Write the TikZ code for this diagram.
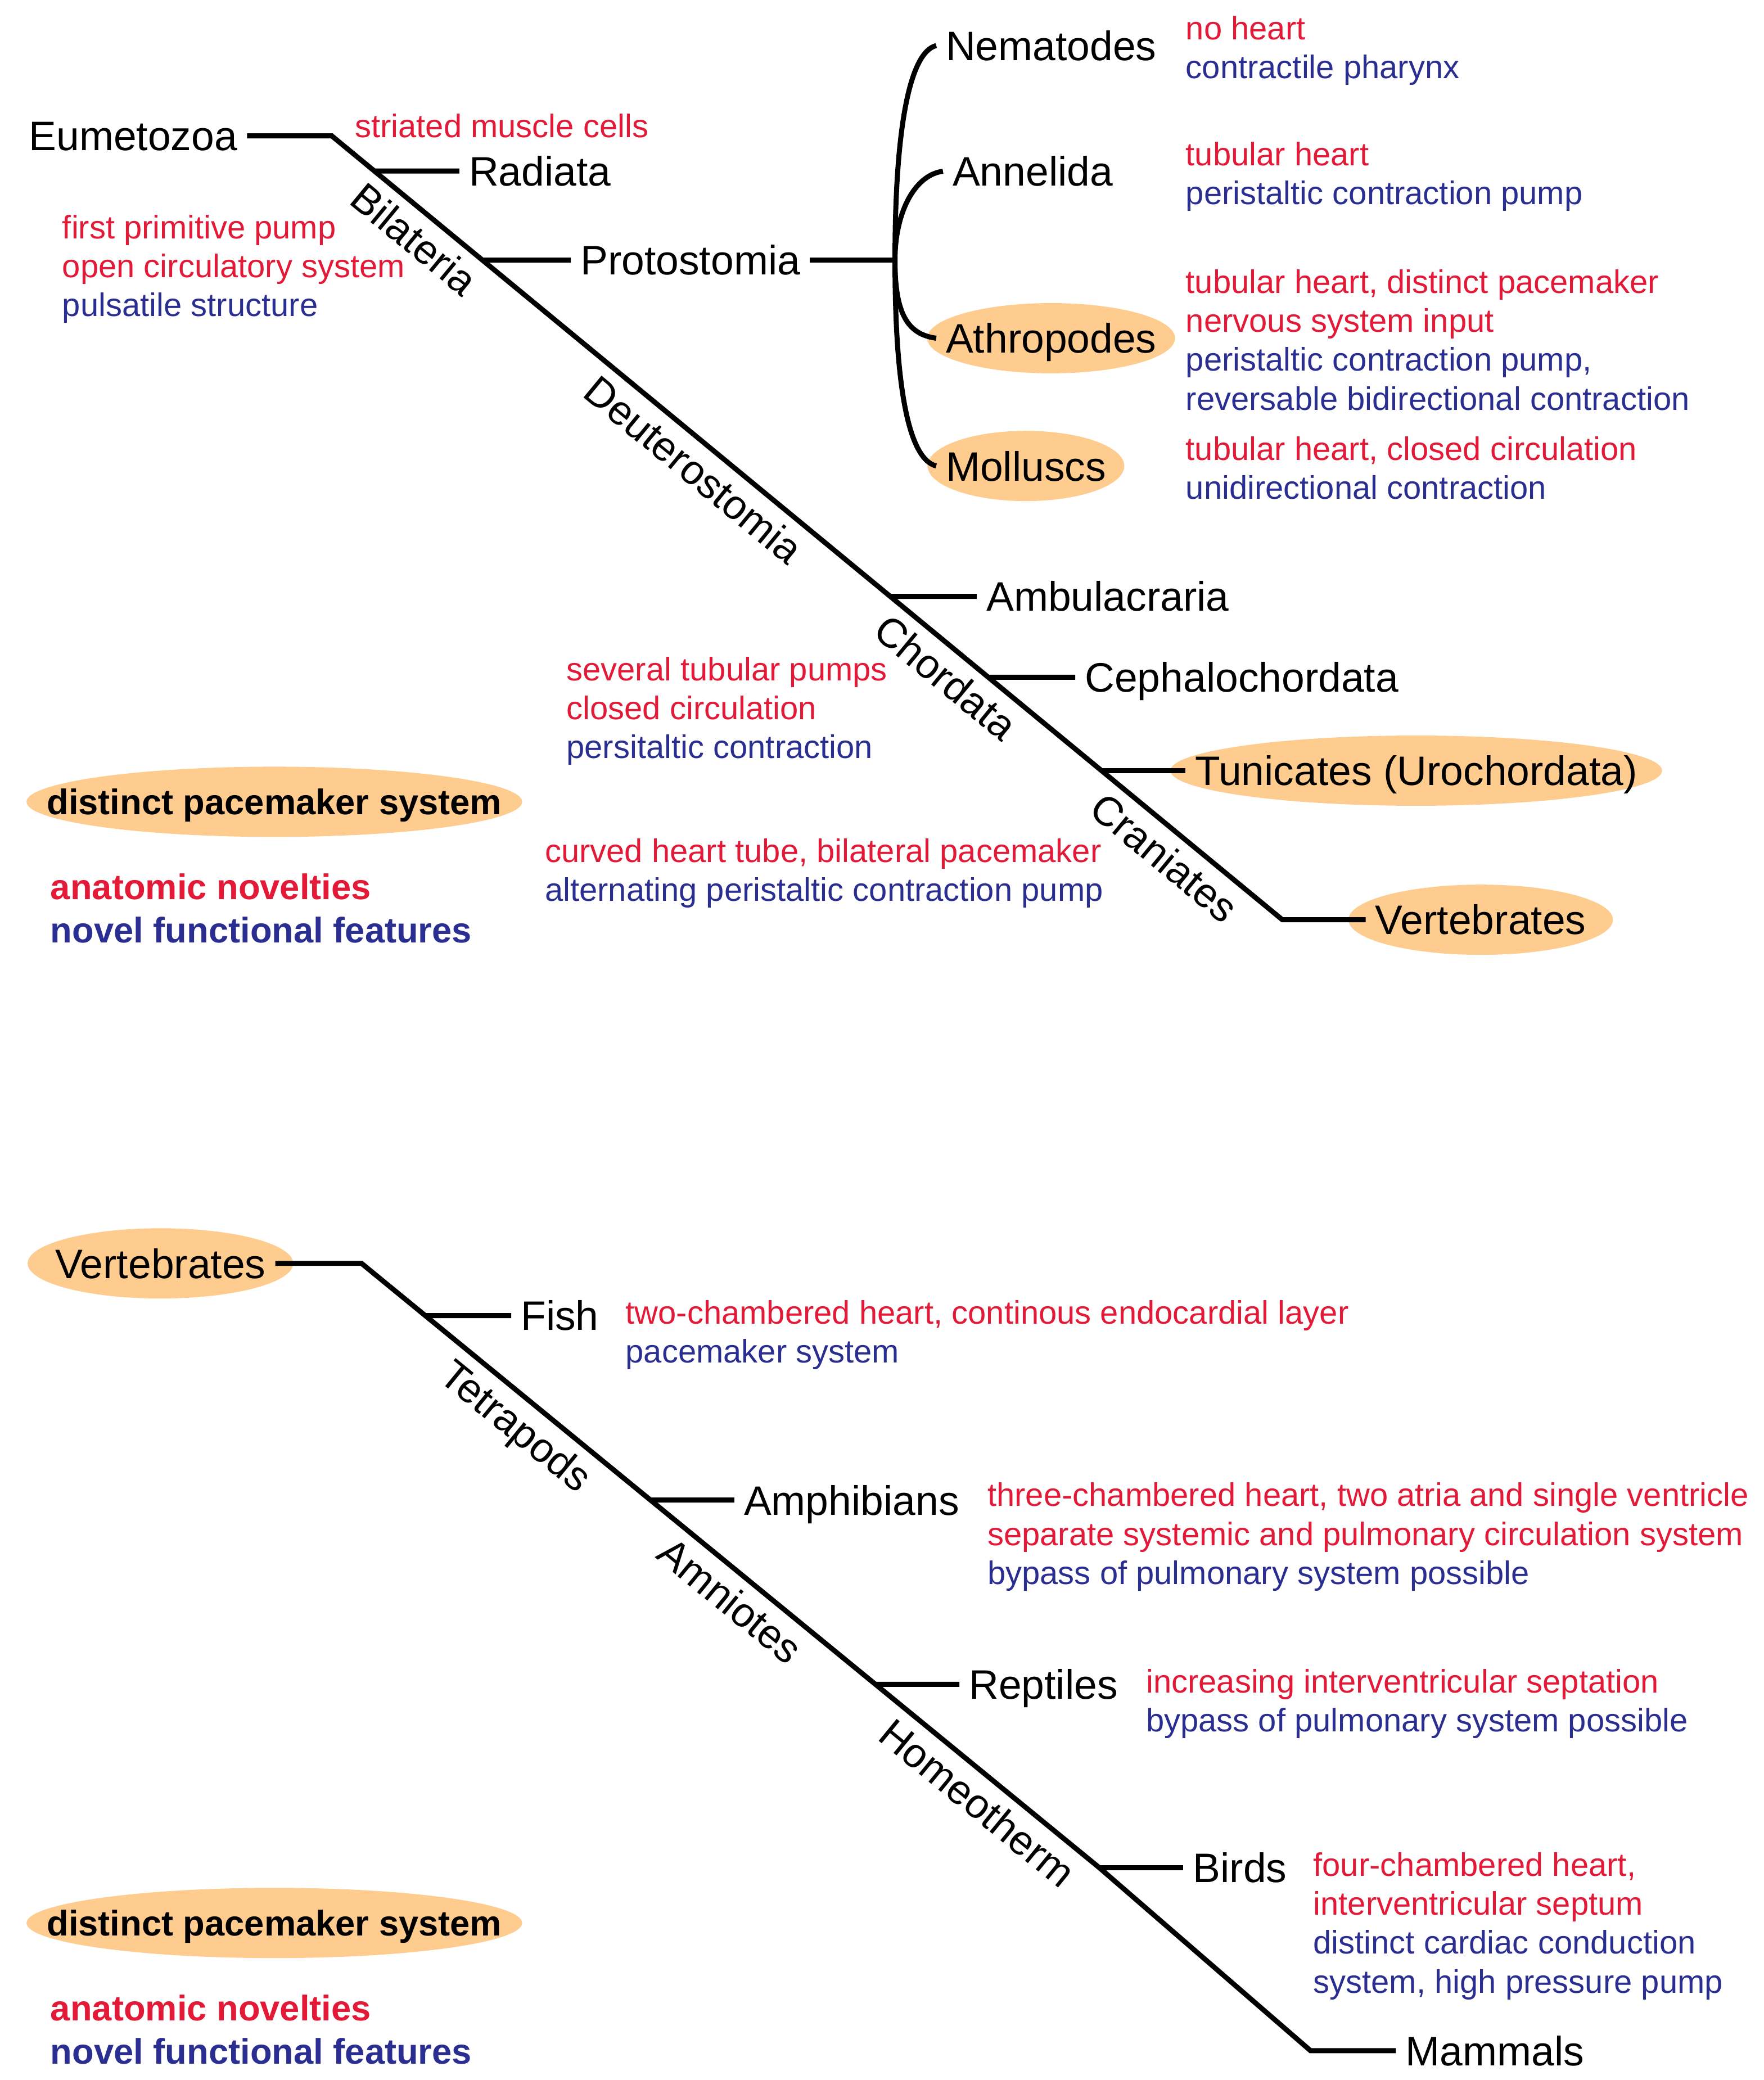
\documentclass[tikz,border=0pt]{standalone}
\usepackage{fontspec}
\setmainfont{Liberation Sans}
\usetikzlibrary{positioning, backgrounds}

\definecolor{anatred}{RGB}{226,26,55}
\definecolor{funcblue}{RGB}{43,46,145}
\definecolor{hlorange}{RGB}{255,204,143}
\newcommand{\anat}[1]{\textcolor{anatred}{#1}}
\newcommand{\func}[1]{\textcolor{funcblue}{#1}}

\begin{document}
\begin{tikzpicture}[x=0.25mm, y=-0.25mm,
    branch/.style={line width=2.7pt},
    taxon/.style={font=\fontsize{22.1}{26}\selectfont, inner xsep=5pt, inner ysep=0pt,
      text height=20.6pt, text depth=4.7pt},
    clade/.style={font=\fontsize{22.1}{26}\selectfont, sloped, below, inner sep=5pt},
    note/.style={font=\fontsize{17.5}{20.9}\selectfont, align=left, anchor=north west, inner sep=0pt},
    legendtext/.style={font=\bfseries\fontsize{19.1}{23.5}\selectfont, inner sep=0pt}]
  \useasboundingbox (0,0) rectangle (1331,1569.5);

  % Upper tree: Eumetozoa down to the vertebrates
  \node[taxon, anchor=east] (eum) at (186.4,102.5) {Eumetozoa};
  \node[taxon, anchor=west] (rad) at (346.6,129) {Radiata};
  \node[taxon, anchor=west] (pro) at (430.7,196.3) {Protostomia};
  \node[taxon, anchor=west] (nem) at (706.4,34.4) {Nematodes};
  \node[taxon, anchor=west] (ann) at (711.5,129.2) {Annelida};
  \node[taxon, anchor=west] (ath) at (706.4,255.2) {Athropodes};
  \node[taxon, anchor=west] (mol) at (706.4,351.6) {Molluscs};
  \node[taxon, anchor=west] (amb) at (737,450) {Ambulacraria};
  \node[taxon, anchor=west] (cep) at (811.3,511) {Cephalochordata};
  \node[taxon, anchor=west] (tun) at (894.4,581.5) {Tunicates (Urochordata)};
  \node[taxon, anchor=west] (vert) at (1030.5,694) {Vertebrates};

  \coordinate (c0) at (250.3,102.5);
  \coordinate (c1) at (967.6,694);
  \draw[branch] (eum) -- (c0)
    -- node[clade, pos=0.105] (bil) {Bilateria}
       node[clade, pos=0.399] (deu) {Deuterostomia}
       node[clade, pos=0.664] (cho) {Chordata}
       node[clade, pos=0.894] (cra) {Craniates} (c1) -- (vert);
  \foreach \t in {rad, pro, amb, cep, tun} {
    \coordinate (j\t) at (intersection of c0--c1 and \t.west--\t.east);
    \draw[branch] (j\t) -- (\t);
  }

  % Protostomia fan
  \coordinate (jp) at (675.3,196.3);
  \draw[branch] (pro) -- (jp);
  \draw[branch] (jp) .. controls +(0,-100) and +(-20,5) .. (nem.west);
  \draw[branch] (jp) .. controls +(0,-35) and +(-22,3) .. (ann.west);
  \draw[branch] (jp) .. controls +(0,40) and +(-22,-3) .. (ath.west);
  \draw[branch] (jp) .. controls +(0,100) and +(-20,-5) .. (mol.west);

  % Upper notes
  \node[note] (neum) at (267.5,85.5) {\anat{striated muscle cells}};
  \node[note] (nbil) at (46.8,161.9) {\anat{first primitive pump}\\ \anat{open circulatory system}\\ \func{pulsatile structure}};
  \node[note] (nnem) at (894.5,11.6) {\anat{no heart}\\ \func{contractile pharynx}};
  \node[note] (nann) at (894.5,106.7) {\anat{tubular heart}\\ \func{peristaltic contraction pump}};
  \node[note] (nath) at (894.5,203.1) {\anat{tubular heart, distinct pacemaker}\\ \anat{nervous system input}\\ \func{peristaltic contraction pump,}\\ \func{reversable bidirectional contraction}};
  \node[note] (nmol) at (894.5,329.1) {\anat{tubular heart, closed circulation}\\ \func{unidirectional contraction}};
  \node[note] (ncho) at (427.2,495.3) {\anat{several tubular pumps}\\ \anat{closed circulation}\\ \func{persitaltic contraction}};
  \node[note] (ncra) at (410.9,632.6) {\anat{curved heart tube, bilateral pacemaker}\\ \func{alternating peristaltic contraction pump}};

  % Lower tree: vertebrates
  \node[taxon, anchor=east] (vertb) at (207.8,953.3) {Vertebrates};
  \node[taxon, anchor=west] (fish) at (385.7,992.7) {Fish};
  \node[taxon, anchor=west] (amph) at (554.1,1131.9) {Amphibians};
  \node[taxon, anchor=west] (rept) at (723.9,1270.9) {Reptiles};
  \node[taxon, anchor=west] (bird) at (892.9,1409.3) {Birds};
  \node[taxon, anchor=west] (mam) at (1053.3,1547.4) {Mammals};

  \coordinate (c2) at (272.8,953.3);
  \coordinate (jbird) at (829.5,1409.3);
  \coordinate (c3) at (988.9,1547.4);
  \draw[branch] (vertb) -- (c2)
    -- node[clade, pos=0.2335] (tet) {Tetrapods}
       node[clade, pos=0.523] (amn) {Amniotes}
       node[clade, pos=0.858] (hom) {Homeotherm} (jbird) -- (c3) -- (mam);
  \foreach \t in {fish, amph, rept} {
    \coordinate (j\t) at (intersection of c2--jbird and \t.west--\t.east);
    \draw[branch] (j\t) -- (\t);
  }
  \draw[branch] (jbird) -- (bird);

  % Lower notes
  \node[note] (nfish) at (471.8,981) {\anat{two-chambered heart, continous endocardial layer}\\ \func{pacemaker system}};
  \node[note] (namph) at (744.9,1118.5) {\anat{three-chambered heart, two atria and single ventricle}\\ \anat{separate systemic and pulmonary circulation system}\\ \func{bypass of pulmonary system possible}};
  \node[note] (nrept) at (864.5,1259.2) {\anat{increasing interventricular septation}\\ \func{bypass of pulmonary system possible}};
  \node[note] (nbird) at (990.7,1397.5) {\anat{four-chambered heart,}\\ \anat{interventricular septum}\\ \func{distinct cardiac conduction}\\ \func{system, high pressure pump}};

  % Legends (same in both halves)
  \foreach \dy/\i in {0/1, 846/2} {
    \node[legendtext, text height=17.7pt, text depth=4.1pt] (leg\i) at (207,605+\dy) {distinct pacemaker system};
    \node[legendtext, anchor=base west] (anat\i) at (37.9,678.6+\dy) {\anat{anatomic novelties}};
    \node[legendtext, anchor=base west] (func\i) at (37.9,711.3+\dy) {\func{novel functional features}};
  }

  % Highlight ellipses
  \begin{scope}[on background layer]
    \foreach \n/\rx in {ath/93.5, mol/74.2, tun/185.5, vert/99.8, vertb/100.2, leg1/187, leg2/187} {
      \fill[hlorange] (\n.center) ellipse [x radius=\rx, y radius=26.5];
    }
  \end{scope}
\end{tikzpicture}
\end{document}
